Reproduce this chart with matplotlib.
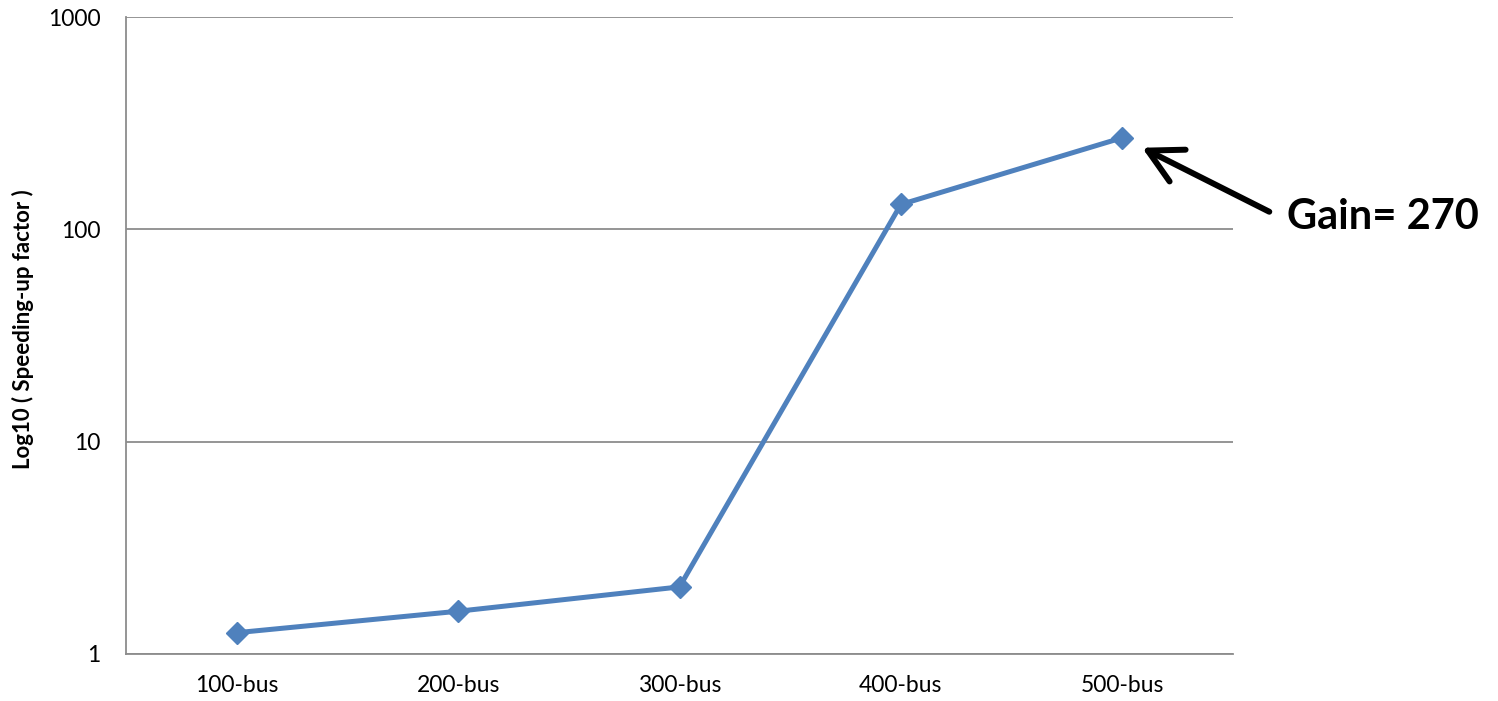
import matplotlib
matplotlib.use("Agg")
import matplotlib.pyplot as plt

# Speed-up factor per test system
systems = ["100-bus", "200-bus", "300-bus", "400-bus", "500-bus"]
speedup = [1.26, 1.59, 2.07, 131, 270]
yticks = [1, 10, 100, 1000]
ytick_labels = ["1", "10", "100", "1000"]
gain_label = "Gain= 270"

plt.rcParams["font.family"] = ["Lato", "DejaVu Sans"]

fig = plt.figure(figsize=(14.98, 7.01), dpi=100)
ax = fig.add_axes([126 / 1498, 1 - 654 / 701, (1233 - 126) / 1498, (654 - 17) / 701])

x = list(range(len(systems)))
ax.plot(x, speedup, color="#4F81BD", linewidth=3.6, marker="D",
        markersize=11.5, markerfacecolor="#4F81BD", markeredgecolor="#4F81BD",
        zorder=3, clip_on=False)

ax.set_yscale("log")
ax.set_ylim(1, 1000)
ax.set_xlim(-0.5, len(systems) - 0.5)
ax.set_yticks(yticks)
ax.set_yticklabels(ytick_labels)
ax.minorticks_off()
ax.set_xticks(x)
ax.set_xticklabels(systems)

ax.tick_params(axis="both", length=0, labelsize=16.5, colors="black")
ax.tick_params(axis="y", pad=18.5)
ax.tick_params(axis="x", pad=15)

ax.grid(axis="y", color="#8C8C8C", linewidth=1.3)
ax.set_axisbelow(True)
for side in ("top", "right"):
    ax.spines[side].set_visible(False)
for side in ("left", "bottom"):
    ax.spines[side].set_color("#8C8C8C")
    ax.spines[side].set_linewidth(1.3)

ax.set_ylabel("Log10 ( Speeding-up factor )", fontsize=16, fontweight="bold")
ax.yaxis.set_label_coords(-0.083, 0.51)

# Arrow pointing at the last point
ax.annotate("", xy=(x[-1], speedup[-1]), xycoords="data",
            xytext=(147, -74), textcoords="offset pixels",
            arrowprops=dict(arrowstyle="->,head_length=0.6,head_width=0.32",
                            color="black", linewidth=4.3, shrinkA=0,
                            shrinkB=16, mutation_scale=40),
            annotation_clip=False)

fig.text(1287 / 1498, 1 - 217 / 701, gain_label, fontsize=30,
         fontweight="bold", ha="left", va="center")

fig.savefig("out.png", dpi=100, facecolor="white")
